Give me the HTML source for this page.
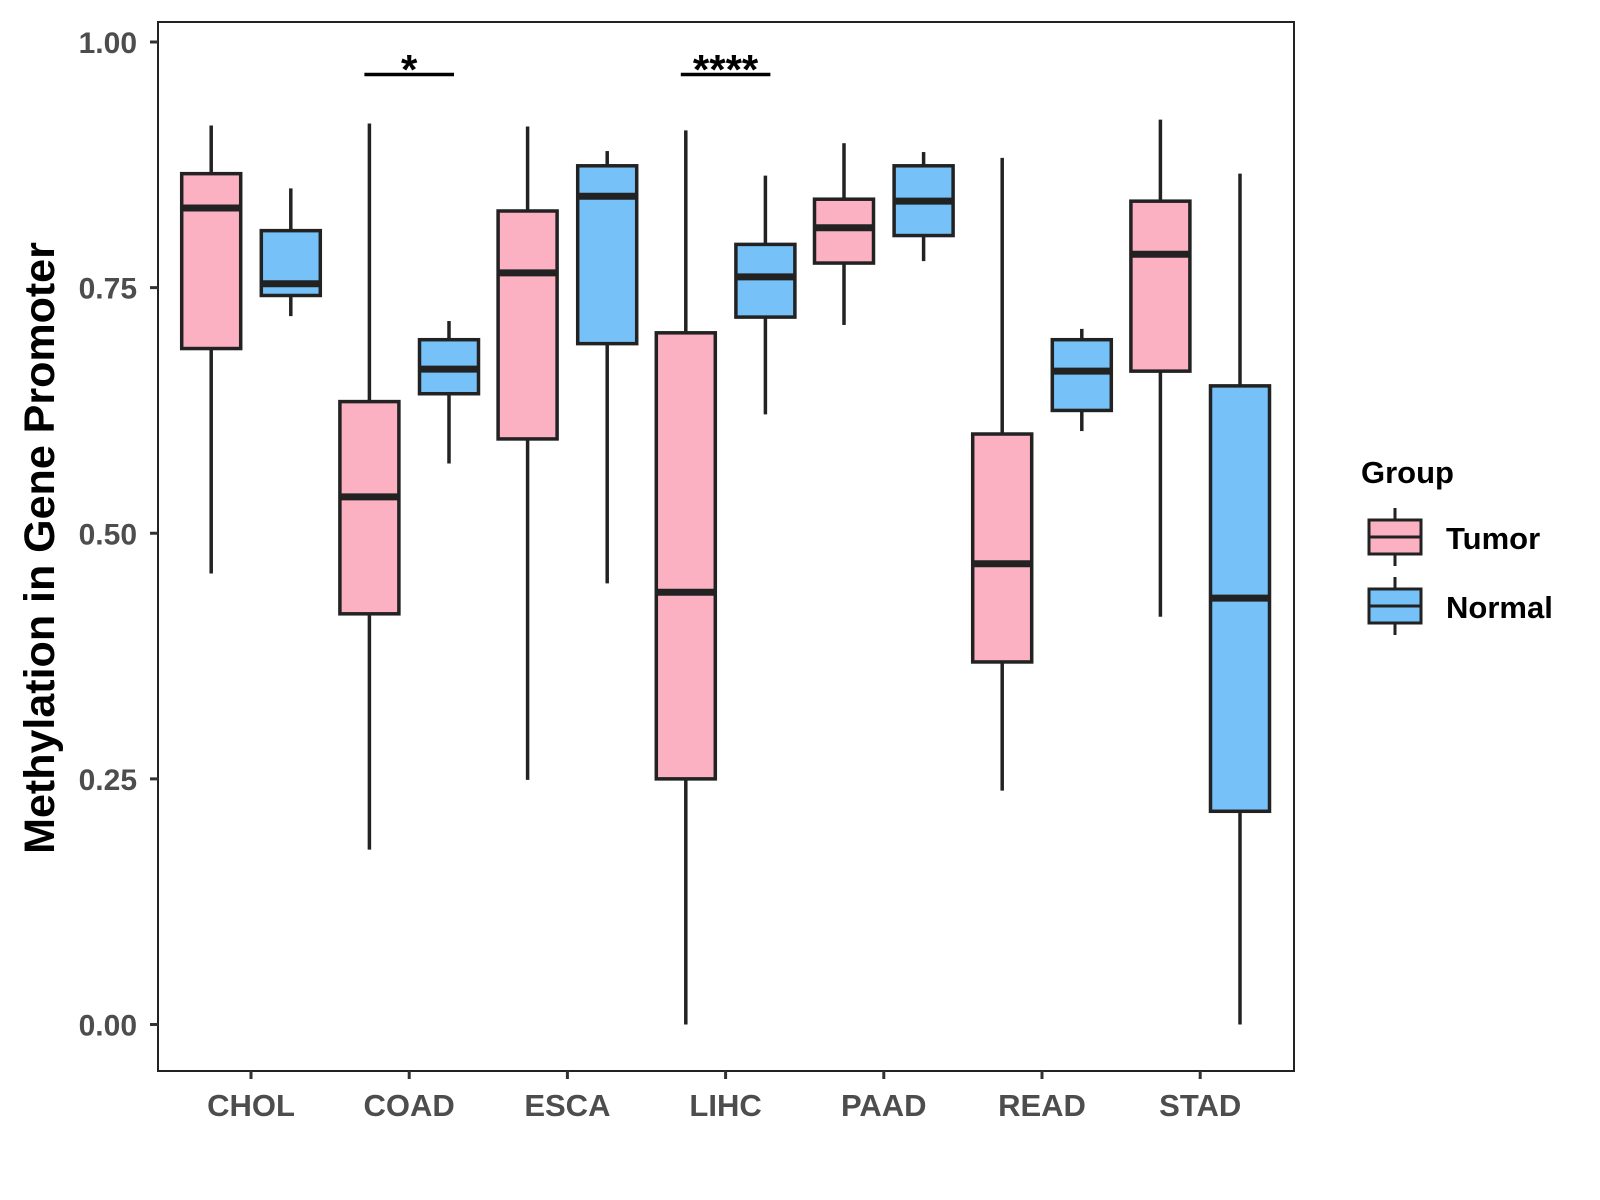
<!DOCTYPE html>
<html><head><meta charset="utf-8">
<style>
html,body{margin:0;padding:0;background:#fff;}
svg{display:block;font-family:"Liberation Sans",Arial,sans-serif;}
</style></head>
<body>
<svg id="chart" width="1600" height="1200" viewBox="0 0 1600 1200">
  <rect x="158" y="22" width="1136" height="1049" fill="#fff" stroke="#222" stroke-width="2"/>
  <g id="yaxis"></g>
  <g id="xaxis"></g>
  <g id="boxes"></g>
  <g id="sig"></g>
  <text x="0" y="0" transform="translate(54,548) rotate(-90)" text-anchor="middle" font-size="43" font-weight="bold" fill="#000">Methylation in Gene Promoter</text>
  <g>
    <text x="1361" y="483" font-size="31" font-weight="bold" fill="#000">Group</text>
    <g>
      <line x1="1395" y1="508" x2="1395" y2="566" stroke="#222" stroke-width="3"/>
      <rect x="1369" y="520" width="52" height="34" fill="#FBB1C2" stroke="#222" stroke-width="3"/>
      <line x1="1369" y1="537" x2="1421" y2="537" stroke="#222" stroke-width="3"/>
      <text x="1446" y="549" font-size="31" font-weight="bold" fill="#000">Tumor</text>
    </g>
    <g>
      <line x1="1395" y1="577" x2="1395" y2="635" stroke="#222" stroke-width="3"/>
      <rect x="1369" y="589" width="52" height="34" fill="#75C1F8" stroke="#222" stroke-width="3"/>
      <line x1="1369" y1="606" x2="1421" y2="606" stroke="#222" stroke-width="3"/>
      <text x="1446" y="618" font-size="31" font-weight="bold" fill="#000">Normal</text>
    </g>
  </g>
</svg>
<script>
const categories = ["CHOL","COAD","ESCA","LIHC","PAAD","READ","STAD"];
// [lower whisker, Q1, median, Q3, upper whisker]
const tumorStats = [
  [0.459,0.688,0.831,0.866,0.915],
  [0.178,0.418,0.537,0.634,0.917],
  [0.249,0.596,0.765,0.828,0.914],
  [0.000,0.250,0.440,0.704,0.910],
  [0.712,0.775,0.811,0.840,0.897],
  [0.238,0.369,0.469,0.601,0.882],
  [0.415,0.665,0.784,0.838,0.921]
];
const normalStats = [
  [0.721,0.742,0.754,0.808,0.851],
  [0.571,0.642,0.667,0.697,0.716],
  [0.449,0.693,0.843,0.874,0.889],
  [0.621,0.720,0.761,0.794,0.864],
  [0.777,0.803,0.838,0.874,0.888],
  [0.604,0.625,0.665,0.697,0.708],
  [0.000,0.217,0.434,0.650,0.866]
];
const yTicks = [0, 0.25, 0.5, 0.75, 1.0];
const yTickLabels = ["0.00","0.25","0.50","0.75","1.00"];
const sigCats = ["COAD","LIHC"];
const sigLabels = ["*","****"];

const NS="http://www.w3.org/2000/svg";
function yScale(v){ return 1024.5 - v*982.5; }
function xScale(i){ return 251 + i*158.2; }
function mk(tag, attrs, parent){ const e=document.createElementNS(NS,tag); for(const k in attrs) e.setAttribute(k,attrs[k]); parent.appendChild(e); return e; }

const yaxis=document.getElementById('yaxis');
yTicks.forEach((t,i)=>{
  const y=yScale(t);
  const tk=mk('line',{x1:150,x2:158,y1:y,y2:y,stroke:'#333','stroke-width':3},yaxis);
  
  
  const tx=mk('text',{x:137,y:y+11,'text-anchor':'end','font-size':30,'font-weight':'bold',fill:'#4d4d4d'},yaxis);
  tx.textContent=yTickLabels[i];
  
  
});
const xaxis=document.getElementById('xaxis');
categories.forEach((c,i)=>{
  const x=xScale(i);
  const tk=mk('line',{x1:x,x2:x,y1:1071,y2:1079,stroke:'#333','stroke-width':3},xaxis);
  
  
  const tx=mk('text',{x:x,y:1116,'text-anchor':'middle','font-size':31,'font-weight':'bold',fill:'#4d4d4d'},xaxis);
  tx.textContent=c;
  
  
});

const boxes=document.getElementById('boxes');
function drawBox(cx, s, fill, name){
  const g=mk('g',{},boxes);
  
  
  const hw=29.5;
  mk('line',{x1:cx,x2:cx,y1:yScale(s[4]),y2:yScale(s[3]),stroke:'#222','stroke-width':3.5},g);
  mk('line',{x1:cx,x2:cx,y1:yScale(s[1]),y2:yScale(s[0]),stroke:'#222','stroke-width':3.5},g);
  mk('rect',{x:cx-hw,y:yScale(s[3]),width:2*hw,height:yScale(s[1])-yScale(s[3]),fill:fill,stroke:'#222','stroke-width':3.5},g);
  mk('line',{x1:cx-hw,x2:cx+hw,y1:yScale(s[2]),y2:yScale(s[2]),stroke:'#222','stroke-width':7},g);
}
categories.forEach((c,i)=>{
  drawBox(xScale(i)-39.8, tumorStats[i], '#FBB1C2', 'box-tumor-'+c.toLowerCase());
  drawBox(xScale(i)+39.8, normalStats[i], '#75C1F8', 'box-normal-'+c.toLowerCase());
});

const sig=document.getElementById('sig');
sigCats.forEach((c,k)=>{
  const i=categories.indexOf(c);
  const x1=xScale(i)-39.8-5, x2=xScale(i)+39.8+5;
  const ln=mk('line',{x1:x1,x2:x2,y1:74.5,y2:74.5,stroke:'#000','stroke-width':3.5},sig);
  
  
  const tx=mk('text',{x:(x1+x2)/2,y:84,'text-anchor':'middle','font-size':42,'font-weight':'bold',fill:'#000'},sig);
  tx.textContent=sigLabels[k];
  
  
});
</script>
</body></html>
